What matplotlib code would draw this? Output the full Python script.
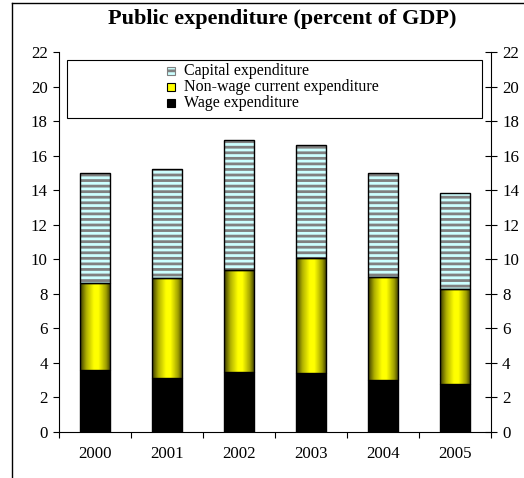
import numpy as np
import matplotlib
matplotlib.use("Agg")
import matplotlib.pyplot as plt
from matplotlib.patches import Rectangle
from matplotlib.lines import Line2D
from matplotlib.colors import LinearSegmentedColormap

plt.rcParams["font.family"] = ["Liberation Serif", "DejaVu Serif"]
plt.rcParams["hatch.linewidth"] = 2.0
plt.rcParams["hatch.color"] = "#808080"

YEARS = ["2000", "2001", "2002", "2003", "2004", "2005"]
WAGE = [3.6, 3.1, 3.5, 3.4, 3.0, 2.8]
NON_WAGE = [5.0, 5.8, 5.9, 6.7, 6.0, 5.5]
CAPITAL = [6.4, 6.3, 7.5, 6.5, 6.0, 5.55]

TITLE = "Public expenditure (percent of GDP)"
LABEL_CAP = "Capital expenditure"
LABEL_NW = "Non-wage current expenditure"
LABEL_W = "Wage expenditure"

W = 524
H = 478
fig = plt.figure(figsize=(W / 100, H / 100), dpi=100)
ax = fig.add_axes([59 / W, 1 - 432 / H, (491 - 59) / W, (432 - 52) / H])

x = np.arange(len(YEARS))
width = 0.43
wage = np.array(WAGE)
nw = np.array(NON_WAGE)
cap = np.array(CAPITAL)

# wage
ax.bar(x, wage, width, color="black", edgecolor="black", linewidth=1.0, zorder=3)

# non-wage: yellow with darker edges (gradient clipped to each bar)
grad_cmap = LinearSegmentedColormap.from_list(
    "yel", [(0.0, "#3a3a00"), (0.2, "#b0b000"), (0.45, "#ffff00"),
            (0.6, "#ffff00"), (0.85, "#a0a000"), (1.0, "#3a3a00")])
grad = np.linspace(0, 1, 64).reshape(1, -1)
nw_bars = ax.bar(x, nw, width, bottom=wage, color="none",
                 edgecolor="black", linewidth=1.0, zorder=4)
for b in nw_bars:
    x0, y0 = b.get_x(), b.get_y()
    im = ax.imshow(grad, cmap=grad_cmap, aspect="auto", zorder=3,
                   extent=[x0, x0 + b.get_width(), y0, y0 + b.get_height()])
    im.set_clip_path(b)

# capital: striped
ax.bar(x, cap, width, bottom=wage + nw, color="#ccffff", edgecolor="#808080",
       linewidth=0, hatch="---", zorder=3)
ax.bar(x, cap, width, bottom=wage + nw, color="none", edgecolor="black",
       linewidth=1.0, zorder=4)

ax.set_xlim(-0.5, len(YEARS) - 0.5)
ax.set_ylim(0, 22)
ax.set_yticks(np.arange(0, 23, 2))
ax.set_xticks(x)
ax.set_xticklabels(YEARS)
ax.set_xticks(np.arange(-0.5, len(YEARS), 1), minor=True)
ax.tick_params(axis="x", which="major", length=0, pad=10, labelsize=12.2)
ax.tick_params(axis="x", which="minor", length=4, width=0.8, direction="out")
ax.tick_params(axis="y", length=4, width=0.8, pad=4, labelsize=12.2,
               left=True, right=True, labelright=True, direction="out")
# right ticks cross the spine
for t in ax.yaxis.get_major_ticks():
    t.tick2line.set_marker("_")
    t.tick2line.set_markersize(8)
for sp in ["left", "right", "bottom"]:
    ax.spines[sp].set_linewidth(0.8)
ax.spines["top"].set_visible(False)

# legend, laid out by hand: box wider than its entries, tight rows
fig.add_artist(Rectangle((67 / W, 1 - 118 / H), 415 / W, 58 / H,
                         transform=fig.transFigure, fill=False,
                         edgecolor="black", linewidth=0.8, zorder=5))
legend_rows = [
    (LABEL_CAP, dict(facecolor="#ccffff", edgecolor="#808080", hatch="--")),
    (LABEL_NW, dict(facecolor="#ffff00", edgecolor="black")),
    (LABEL_W, dict(facecolor="black", edgecolor="black")),
]
row_y = 71
for label, style in legend_rows:
    fig.add_artist(Rectangle((167 / W, 1 - (row_y + 4) / H), 8 / W, 8 / H,
                             transform=fig.transFigure, linewidth=0.8, **style))
    fig.text(184 / W, 1 - row_y / H, label, ha="left", va="center", fontsize=11.5)
    row_y += 16

fig.text(282 / W, 1 - 19 / H, TITLE, ha="center", va="center",
         fontsize=16, fontweight="bold")

# outer frame (only left and top edges fall inside the image)
fig.add_artist(Line2D([11.5 / W, 11.5 / W], [0, 1 - 2.5 / H],
                      transform=fig.transFigure, color="black", linewidth=1.0))
fig.add_artist(Line2D([11.5 / W, 1], [1 - 2.5 / H, 1 - 2.5 / H],
                      transform=fig.transFigure, color="black", linewidth=1.0))

fig.savefig("out.png", dpi=100)
